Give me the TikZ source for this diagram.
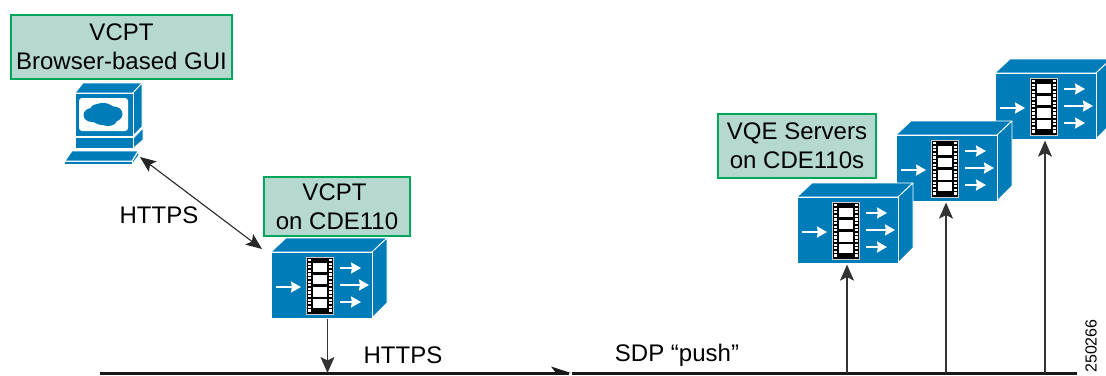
\documentclass[tikz,border=0pt]{standalone}
\usepackage{fontspec}
\setmainfont{Liberation Sans}
\usetikzlibrary{arrows.meta}
\definecolor{devblue}{HTML}{007CB8}
\definecolor{lblfill}{HTML}{B5D8D0}
\definecolor{lblline}{HTML}{00A65A}
\tikzset{
  lbl/.style={draw=lblline,line width=2pt,fill=lblfill,inner sep=0pt,align=center,font=\fontsize{24}{29}\selectfont,anchor=north west,text=black},
  txt/.style={inner sep=0pt,font=\fontsize{24}{28}\selectfont,text=black},
  face/.style={fill=devblue,draw=white,line width=0.8pt,line join=round},
  conn/.style={draw=black!80,line width=1.1pt,-{Stealth[length=16pt,width=14pt,inset=3.5pt]}},
  connb/.style={draw=black!85,line width=1.1pt,{Stealth[length=16pt,width=13pt,inset=3.5pt]}-{Stealth[length=16pt,width=13pt,inset=3.5pt]}},
  wire/.style={draw=black!90,line width=2.6pt},
  wht/.style={draw=white,line width=2.2pt,-{Stealth[length=10pt,width=11pt,inset=1pt]}},
  devfront/.style={inner sep=0pt,minimum width=101pt,minimum height=66pt,anchor=north west},
}
\newcommand{\videodevice}[3]{%
\begin{scope}[shift={(#1,#2)}]
 \fill[face] (0,0) -- (15,-14) -- (116,-14) -- (101,0) -- cycle;
 \fill[face] (101,0) -- (116,-14) -- (116,51) -- (101,66) -- cycle;
 \fill[face] (0,0) rectangle (101,66);
 \node[devfront] (#3) at (0,0) {};
 \filldraw[draw=white!80!black,fill=black,line width=0.6pt] (35,5) rectangle (62,62);
 \foreach \ya/\yb in {11/20,23/32,35/45,47/56}{\fill[white] (42,\ya) rectangle (56,\yb);}
 \draw[white,line width=3.4pt,dash pattern=on 2.2pt off 1.4pt] (38.4,7) -- (38.4,60);
 \draw[white,line width=3.4pt,dash pattern=on 2.2pt off 1.4pt] (59.6,7) -- (59.6,60);
 \draw[wht] (5,35) -- (30,35);
 \draw[wht] (69,16) -- (90,16);
 \draw[wht] (69,33) -- (98,33);
 \draw[wht] (69,50) -- (90,50);
\end{scope}}
\begin{document}
\begin{tikzpicture}[x=1pt,y=-1pt]
\useasboundingbox (0,0) rectangle (1106,375);
\videodevice{995}{73}{srvc}
\videodevice{896}{135}{srvb}
\videodevice{797}{197}{srva}
\videodevice{271}{252}{vcptdev}
\node[lbl,minimum width=221pt,minimum height=64pt] (gui) at (10,14) {VCPT\\Browser-based GUI};
\node[lbl,minimum width=146pt,minimum height=59pt] (vcpt) at (263,176) {VCPT\hspace*{5pt}\\on CDE110};
\node[lbl,minimum width=158pt,minimum height=64pt] (vqe) at (717,113) {VQE Servers\\on CDE110s};
% PC
\fill[face] (75,93) -- (83,83) -- (142,83) -- (133,93) -- cycle;
\fill[face] (133,93) -- (142,83) -- (142,127) -- (133,136) -- cycle;
\fill[face] (75,93) rectangle (133,136);
\fill[white,rounded corners=3pt] (79,98) rectangle (128,131);
\fill[devblue] (103,114) ellipse (14pt and 11pt);
\fill[devblue] (92,115) ellipse (8.5pt and 7pt);
\fill[devblue] (114,114) ellipse (8.5pt and 7.5pt);
\fill[devblue] (98,110) ellipse (8pt and 6pt);
\fill[devblue] (108,120) ellipse (9pt and 6pt);
\fill[face] (75,137.5) -- (133,137.5) -- (133,148) -- (75,148) -- cycle;
\fill[face] (133.5,138) -- (143,128) -- (143,140) -- (133.5,148) -- cycle;
\fill[face] (72,151) -- (138,151) -- (132,161) -- (65,161) -- cycle;
\fill[face] (138,152) -- (139,155) -- (133,163) -- (132,161.5) -- cycle;
\fill[devblue] (65,162) rectangle (132,163.5);
\node[inner sep=0pt,minimum width=78pt,minimum height=80pt,anchor=north west] (pc) at (65,83) {};
% connectors
\coordinate (pcend) at (140,157);
\coordinate (devend) at (262,249);
\draw[connb] (pcend) -- (devend);
\coordinate (wa) at (100,373.5);
\coordinate (wb) at (569,373.5);
\coordinate (wc) at (572,373.5);
\coordinate (wd) at (1077,373.5);
\coordinate (ta) at (327.5,373);
\coordinate (tb) at (847,373);
\coordinate (tc) at (946,373);
\coordinate (td) at (1045,373);
\draw[wire] (wa) -- (wb);
\fill[black!90] (571,373) -- (551,366.5) -- (556,373) -- cycle;
\draw[wire] (wc) -- (wd);
\draw[conn] (vcptdev.south -| ta) ++(0,1) -- (ta);
\draw[conn] (tb) -- ([yshift=-1.2pt]srva.south -| tb);
\draw[conn] (tc) -- ([yshift=-1.2pt]srvb.south -| tc);
\draw[conn] (td) -- ([yshift=-1.2pt]srvc.south -| td);
% text
\node[txt] (h1) at (159,215) {HTTPS};
\node[txt] (h2) at (403,355) {HTTPS};
\node[txt] (sdp) at (677,355) {SDP “push”};
\node[inner sep=0pt,font=\fontsize{16}{18}\selectfont,rotate=90] (num) at (1091,346) {250266};
\end{tikzpicture}
\end{document}
